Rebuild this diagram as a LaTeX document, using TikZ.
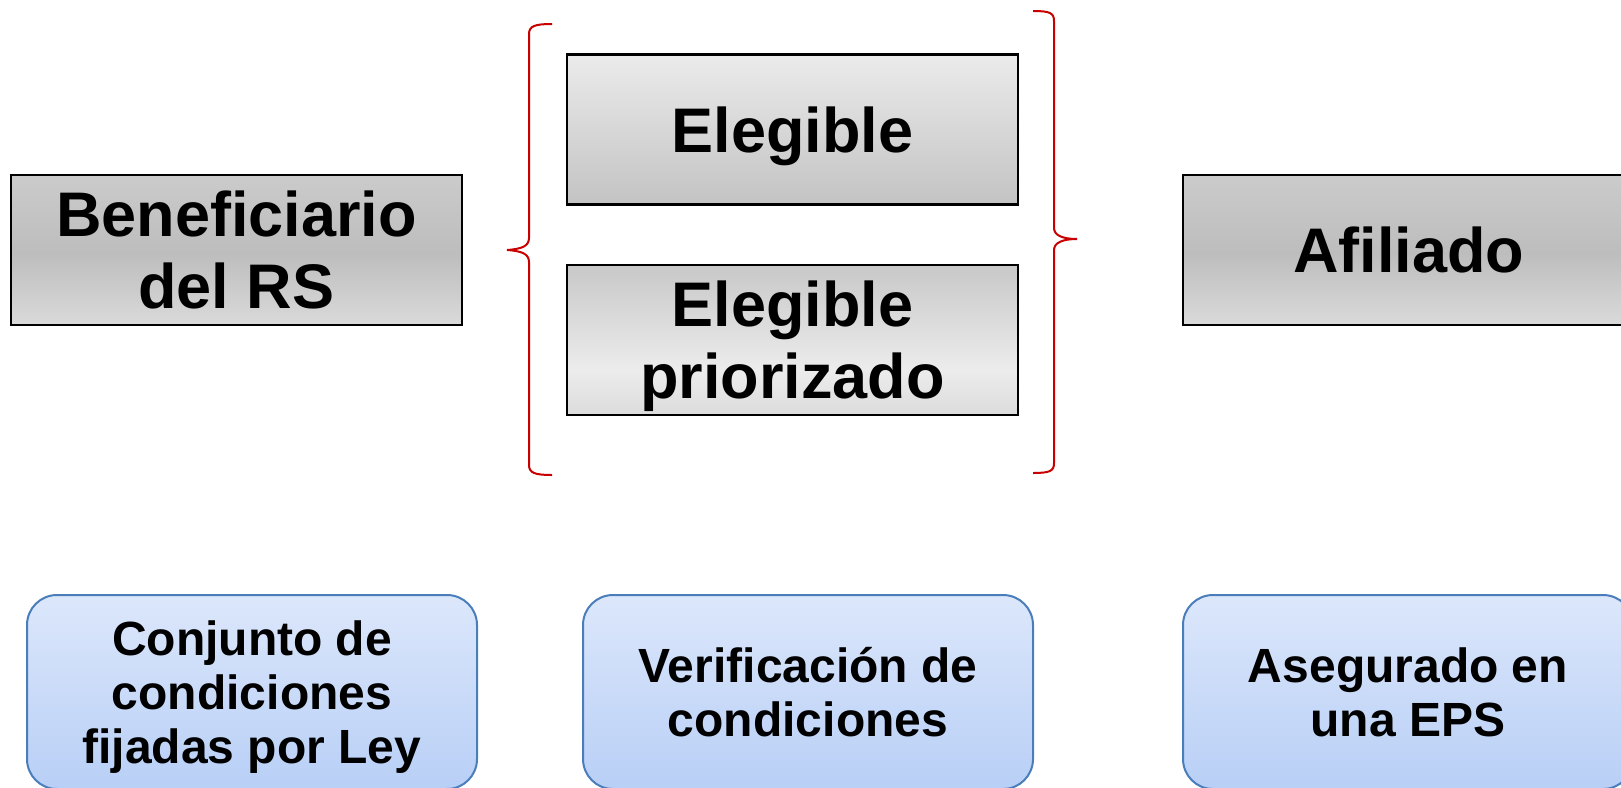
\documentclass[tikz,border=0pt]{standalone}
\usepackage{fontspec}
\setmainfont{Liberation Sans}
\usetikzlibrary{positioning}
\definecolor{bracered}{HTML}{C80000}
\definecolor{frameblue}{HTML}{4A7EBB}
\definecolor{paleblue}{HTML}{DCE7FB}
\definecolor{deepblue}{HTML}{B8CFF6}
\definecolor{bandtop}{HTML}{CBCBCB}
\definecolor{banddark}{HTML}{BDBDBD}
\definecolor{bandlow}{HTML}{DADADA}
\definecolor{falltop}{HTML}{EBEBEB}
\definecolor{falllow}{HTML}{C3C3C3}
\definecolor{risetop}{HTML}{C8C8C8}
\definecolor{riselight}{HTML}{ECECEC}
\definecolor{riselow}{HTML}{DCDCDC}
\pgfdeclareverticalshading{grayband}{100bp}{color(0bp)=(bandlow); color(25bp)=(bandlow);
  color(49bp)=(banddark); color(75bp)=(bandtop); color(100bp)=(bandtop)}
\pgfdeclareverticalshading{grayfall}{100bp}{color(0bp)=(falllow); color(25bp)=(falllow);
  color(75bp)=(falltop); color(100bp)=(falltop)}
\pgfdeclareverticalshading{grayrise}{100bp}{color(0bp)=(riselow); color(25bp)=(riselow);
  color(40bp)=(riselight); color(75bp)=(risetop); color(100bp)=(risetop)}
\tikzset{graybox/.style={
    draw=black, line width=2.5pt, shade, shading=#1,
    minimum width=451pt, minimum height=150pt, inner sep=0pt, text depth=0pt,
    align=center, font=\fontsize{63}{72}\selectfont\bfseries
    },
  notebox/.style={
    draw=frameblue, line width=2pt, rounded corners=30pt,
    top color=paleblue, bottom color=deepblue,
    minimum width=450pt, minimum height=194pt, inner sep=0pt, text depth=0pt,
    align=center, font=\fontsize{48}{54}\selectfont\bfseries
    },
  brace/.style={draw=bracered, line width=2pt}
}
\begin{document}
\begin{tikzpicture}[x=1pt,y=-1pt]
	\useasboundingbox (0,0) rectangle (1621,787);
	\clip (0,0) rectangle (1621,787);

	\node[graybox=grayband] (benef) at (236.5,250) {Beneficiario\\del RS};
	\node[graybox=grayfall] (eleg) at (792.5,129.5) {Elegible};
	\node[graybox=grayrise] (prior) at (792.5,340) {Elegible\\priorizado};
	\node[graybox=grayband] (afil) at (1408.5,250) {Afiliado};

	\node[notebox] (ley) at (252,692) {Conjunto de\\condiciones\\fijadas por Ley};
	\node[notebox] (verif) at (808,692) {Verificación de\\condiciones};
	\node[notebox] (eps) at (1408,692) {Asegurado en\\una EPS};

	% llaves
	\draw[brace] (552,24) .. controls (535,24) and (529,26) .. (529,34) -- (529,238)
		.. controls (529,246) and (522,249) .. (507,250)
		.. controls (522,251) and (529,254) .. (529,262) -- (529,465)
		.. controls (529,473) and (535,475) .. (552,475);
	\draw[brace] (1033,11) .. controls (1050,11) and (1054,13) .. (1054,21) -- (1054,228)
		.. controls (1054,235) and (1062,239) .. (1077,239)
		.. controls (1062,239) and (1054,243) .. (1054,250) -- (1054,463)
		.. controls (1054,471) and (1050,473) .. (1033,473);

\end{tikzpicture}
\end{document}
